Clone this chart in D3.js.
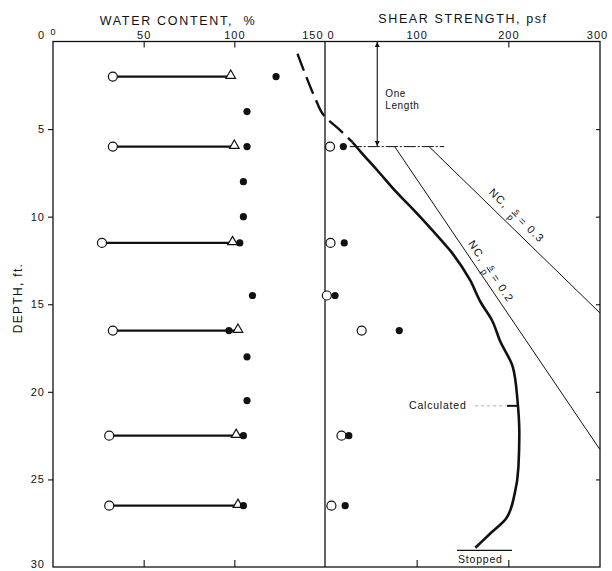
<!DOCTYPE html>
<html>
<head>
<meta charset="utf-8">
<script src="https://cdn.jsdelivr.net/npm/d3@7"></script>
<style>
  body { margin: 0; background: #fff; }
  text { font-family: 'Liberation Sans', Arial, sans-serif; fill: #111; }
</style>
</head>
<body>
<script>
// tick values
const depthTicks = [0, 5, 10, 15, 20, 25, 30];
const waterTicks = [0, 50, 100, 150];
const shearTicks = [0, 100, 200, 300];

// Atterberg limits (open circle = plastic limit, triangle = liquid limit)
const limitDepth = [2, 6, 11.5, 16.5, 22.5, 26.5];
const plasticLimit = [33, 33, 27, 33, 31, 31];
const liquidLimit = [98, 100, 99, 102, 101, 102];

// natural water content (filled dots)
const waterDepth = [2, 4, 6, 8, 10, 11.5, 14.5, 16.5, 18, 20.5, 22.5, 26.5];
const waterNatural = [123, 107, 107, 105, 105, 103, 110, 97, 107, 107, 105, 105];

// vane shear strength
const vaneDepth = [6, 11.5, 14.5, 16.5, 22.5, 26.5];
const vaneOpen = [5.5, 6, 2, 40, 18, 7];
const vaneFilled = [20, 21, 11, 81, 26, 22];

// calculated strength curve, dashed upper part then solid part
const calcDashDepth = [0.7, 1.8, 3.2, 4.3, 4.95, 5.75];
const calcDashShear = [-30, -22, -11, 0, 14, 30];
const calcDepth = [5.75, 6.3, 7.35, 8.66, 9.8, 11.3, 11.9, 13.6, 14.9, 15.9, 17.1, 18.6, 20.5, 22.4, 24.3, 25.8, 27.2, 28.1, 28.9];
const calcShear = [30, 39, 57, 79, 100, 126, 136, 158, 170, 182, 191, 205, 210, 212, 211, 207, 198, 180, 164];

// normally consolidated lines
const ncRatio = ['0.2', '0.3'];
const ncDepth = [[6, 23.3], [6, 15.5]];
const ncShear = [[76, 300], [113.5, 300]];

const svg = d3.select('body')
  .append('svg')
  .attr('width', 612)
  .attr('height', 571);

svg.append('rect').attr('width', 612).attr('height', 571).attr('fill', '#fff');

const y = d3.scaleLinear().domain([0, 30]).range([41.5, 567]);
const xW = d3.scaleLinear().domain([0, 150]).range([53, 325]);
const xS = d3.scaleLinear().domain([0, 300]).range([325, 600]);

const ink = '#111';

//frame of both panels
svg.append('rect')
  .attr('x', xW(0)).attr('y', y(0))
  .attr('width', xS(300) - xW(0)).attr('height', y(30) - y(0))
  .attr('fill', 'none').attr('stroke', ink).attr('stroke-width', 1.3);
svg.append('line')
  .attr('x1', xS(0)).attr('x2', xS(0)).attr('y1', y(0)).attr('y2', y(30))
  .attr('stroke', ink).attr('stroke-width', 1.3);

const styleAxis = (g) => {
  g.select('.domain').remove();
  g.selectAll('.tick line').attr('stroke', ink).attr('stroke-width', 1.1);
  g.selectAll('.tick text').attr('font-size', 11).attr('letter-spacing', 1).attr('fill', ink);
};

//depth axis
svg.append('g')
  .attr('transform', `translate(${xW(0)},0)`)
  .call(d3.axisLeft(y).tickValues(depthTicks).tickSize(5).tickPadding(3))
  .call(styleAxis)
  .call(g => g.selectAll('.tick text').filter(d => d === 0).attr('dy', '-0.3em'))
  .call(g => g.selectAll('.tick text').filter(d => d === 30).attr('dy', '0.05em'))
  .call(g => g.selectAll('.tick line').filter(d => d === 0 || d === 30).remove());

//ticks on the right border
svg.append('g')
  .attr('transform', `translate(${xS(300)},0)`)
  .call(d3.axisRight(y).tickValues([5, 10, 15, 20, 25]).tickSize(-4).tickFormat(''))
  .call(styleAxis);

//water content top axis
svg.append('g')
  .attr('transform', `translate(0,${y(0)})`)
  .call(d3.axisTop(xW).tickValues(waterTicks).tickSize(-6).tickPadding(3))
  .call(styleAxis)
  .call(g => g.selectAll('.tick line').filter(d => d === 0 || d === 150).remove())
  .call(g => g.selectAll('.tick text').filter(d => d === 0).attr('font-size', 9).attr('dy', '-0.35em'))
  .call(g => g.selectAll('.tick text').filter(d => d === 150).attr('text-anchor', 'end').attr('dx', -2));

//shear strength top axis
svg.append('g')
  .attr('transform', `translate(0,${y(0)})`)
  .call(d3.axisTop(xS).tickValues(shearTicks).tickSize(-6).tickPadding(3))
  .call(styleAxis)
  .call(g => g.selectAll('.tick line').filter(d => d !== 200).remove())
  .call(g => g.selectAll('.tick text').filter(d => d === 0).attr('text-anchor', 'start').attr('dx', 2))
  .call(g => g.selectAll('.tick text').filter(d => d === 300).attr('dx', -3));

//bottom ticks, no labels
svg.append('g')
  .attr('transform', `translate(0,${y(30)})`)
  .call(d3.axisBottom(xW).tickValues([50, 100]).tickSize(-7).tickFormat(''))
  .call(styleAxis);
svg.append('g')
  .attr('transform', `translate(0,${y(30)})`)
  .call(d3.axisBottom(xS).tickValues([100, 200]).tickSize(-7).tickFormat(''))
  .call(styleAxis);

//axis titles
svg.append('text')
  .attr('x', 178).attr('y', 25)
  .attr('text-anchor', 'middle')
  .attr('font-size', 12.5).attr('letter-spacing', 1.7)
  .attr('xml:space', 'preserve')
  .text('WATER CONTENT,  %');
svg.append('text')
  .attr('x', 463).attr('y', 23)
  .attr('text-anchor', 'middle')
  .attr('font-size', 12.5).attr('letter-spacing', 1.6)
  .text('SHEAR STRENGTH, psf');
svg.append('text')
  .attr('transform', 'translate(22,298) rotate(-90)')
  .attr('text-anchor', 'middle')
  .attr('font-size', 12).attr('letter-spacing', 1.3)
  .text('DEPTH, ft.');

//limits: connector lines, circles and triangles
const limits = limitDepth.map((d, i) => ({ depth: d, pl: plasticLimit[i], ll: liquidLimit[i] }));

svg.selectAll('.limit-line')
  .data(limits)
  .enter()
  .append('line')
  .attr('class', 'limit-line')
  .attr('x1', d => xW(d.pl)).attr('x2', d => xW(d.ll))
  .attr('y1', d => y(d.depth)).attr('y2', d => y(d.depth))
  .attr('stroke', ink).attr('stroke-width', 2.2);

svg.selectAll('.ll')
  .data(limits)
  .enter()
  .append('path')
  .attr('class', 'll')
  .attr('d', d3.symbol(d3.symbolTriangle).size(40))
  .attr('transform', d => `translate(${xW(d.ll)},${y(d.depth) - 1})`)
  .attr('fill', '#fff').attr('stroke', ink).attr('stroke-width', 1.2);

svg.selectAll('.pl')
  .data(limits)
  .enter()
  .append('circle')
  .attr('class', 'pl')
  .attr('cx', d => xW(d.pl)).attr('cy', d => y(d.depth))
  .attr('r', 4.5)
  .attr('fill', '#fff').attr('stroke', ink).attr('stroke-width', 1.2);

//natural water content
svg.selectAll('.wn')
  .data(waterDepth.map((d, i) => ({ depth: d, w: waterNatural[i] })))
  .enter()
  .append('circle')
  .attr('class', 'wn')
  .attr('cx', d => xW(d.w)).attr('cy', d => y(d.depth))
  .attr('r', 3.6)
  .attr('fill', ink);

//vane strengths
const vanes = vaneDepth.map((d, i) => ({ depth: d, open: vaneOpen[i], filled: vaneFilled[i] }));
svg.selectAll('.vane-open')
  .data(vanes)
  .enter()
  .append('circle')
  .attr('class', 'vane-open')
  .attr('cx', d => xS(d.open)).attr('cy', d => y(d.depth))
  .attr('r', 4.5)
  .attr('fill', '#fff').attr('stroke', ink).attr('stroke-width', 1.2);
svg.selectAll('.vane-filled')
  .data(vanes)
  .enter()
  .append('circle')
  .attr('class', 'vane-filled')
  .attr('cx', d => xS(d.filled)).attr('cy', d => y(d.depth))
  .attr('r', 3.6)
  .attr('fill', ink);

//calculated curve (depth always increases, so monotone in y)
const curve = d3.line()
  .x(d => xS(d[0]))
  .y(d => y(d[1]))
  .curve(d3.curveMonotoneY);

svg.append('path')
  .attr('d', curve(calcDashShear.map((s, i) => [s, calcDashDepth[i]])))
  .attr('fill', 'none').attr('stroke', ink).attr('stroke-width', 2.4)
  .attr('stroke-dasharray', '18,7');
svg.append('path')
  .attr('d', curve(calcShear.map((s, i) => [s, calcDepth[i]])))
  .attr('fill', 'none').attr('stroke', ink).attr('stroke-width', 2.6);

//normally consolidated lines with rotated labels
ncRatio.forEach((r, i) => {
  const x1 = xS(ncShear[i][0]), y1 = y(ncDepth[i][0]);
  const x2 = xS(ncShear[i][1]), y2 = y(ncDepth[i][1]);
  svg.append('line')
    .attr('x1', x1).attr('y1', y1).attr('x2', x2).attr('y2', y2)
    .attr('stroke', ink).attr('stroke-width', 1);
  const t = i === 0 ? 0.43 : 0.465;
  const ang = Math.atan2(y2 - y1, x2 - x1) * 180 / Math.PI;
  const lab = svg.append('text')
    .attr('transform', `translate(${x1 + (x2 - x1) * t},${y1 + (y2 - y1) * t}) rotate(${ang})`)
    .attr('y', i === 0 ? -6 : -8)
    .attr('text-anchor', 'middle')
    .attr('font-size', 11).attr('letter-spacing', 1.3)
    .attr('xml:space', 'preserve');
  lab.append('tspan').text('NC,  ');
  lab.append('tspan').attr('font-size', 9).attr('dy', -4).text('s');
  lab.append('tspan').attr('font-size', 9).attr('dx', -7).attr('dy', 9)
    .attr('text-decoration', 'overline').text('p');
  lab.append('tspan').attr('dy', -5).text(' = ' + r);
});

//reference depth line (dash dot)
svg.append('line')
  .attr('x1', xS(27)).attr('x2', xS(130))
  .attr('y1', y(6)).attr('y2', y(6))
  .attr('stroke', ink).attr('stroke-width', 1)
  .attr('stroke-dasharray', '12,2,2,2');

//one length arrow
const defs = svg.append('defs');
defs.append('marker')
  .attr('id', 'head')
  .attr('viewBox', '0 0 10 10')
  .attr('refX', 10).attr('refY', 5)
  .attr('markerWidth', 5).attr('markerHeight', 6)
  .attr('markerUnits', 'userSpaceOnUse')
  .attr('orient', 'auto-start-reverse')
  .append('path').attr('d', 'M0,0 L10,5 L0,10 Z').attr('fill', ink);

svg.append('line')
  .attr('x1', xS(57)).attr('x2', xS(57))
  .attr('y1', y(0) + 0.5).attr('y2', y(6) - 0.5)
  .attr('stroke', ink).attr('stroke-width', 1.1)
  .attr('marker-start', 'url(#head)')
  .attr('marker-end', 'url(#head)');
svg.append('text')
  .attr('x', xS(57) + 8).attr('y', 97)
  .attr('font-size', 10).attr('letter-spacing', 0.6)
  .text('One');
svg.append('text')
  .attr('x', xS(57) + 8).attr('y', 109)
  .attr('font-size', 10).attr('letter-spacing', 0.6)
  .text('Length');

//calculated label with leader
svg.append('text')
  .attr('x', 409).attr('y', 409)
  .attr('font-size', 10.5).attr('letter-spacing', 0.8)
  .text('Calculated');
svg.append('line')
  .attr('x1', 475).attr('x2', 506)
  .attr('y1', y(20.8)).attr('y2', y(20.8))
  .attr('stroke', '#999').attr('stroke-width', 0.8)
  .attr('stroke-dasharray', '3,3');
svg.append('line')
  .attr('x1', 507).attr('x2', xS(211))
  .attr('y1', y(20.8)).attr('y2', y(20.8))
  .attr('stroke', ink).attr('stroke-width', 2);

//stopped marker
svg.append('line')
  .attr('x1', xS(144)).attr('x2', xS(204))
  .attr('y1', y(29.05)).attr('y2', y(29.05))
  .attr('stroke', ink).attr('stroke-width', 1.1);
svg.append('text')
  .attr('x', 458).attr('y', 563)
  .attr('font-size', 10.5).attr('letter-spacing', 0.8)
  .text('Stopped');
</script>
</body>
</html>
